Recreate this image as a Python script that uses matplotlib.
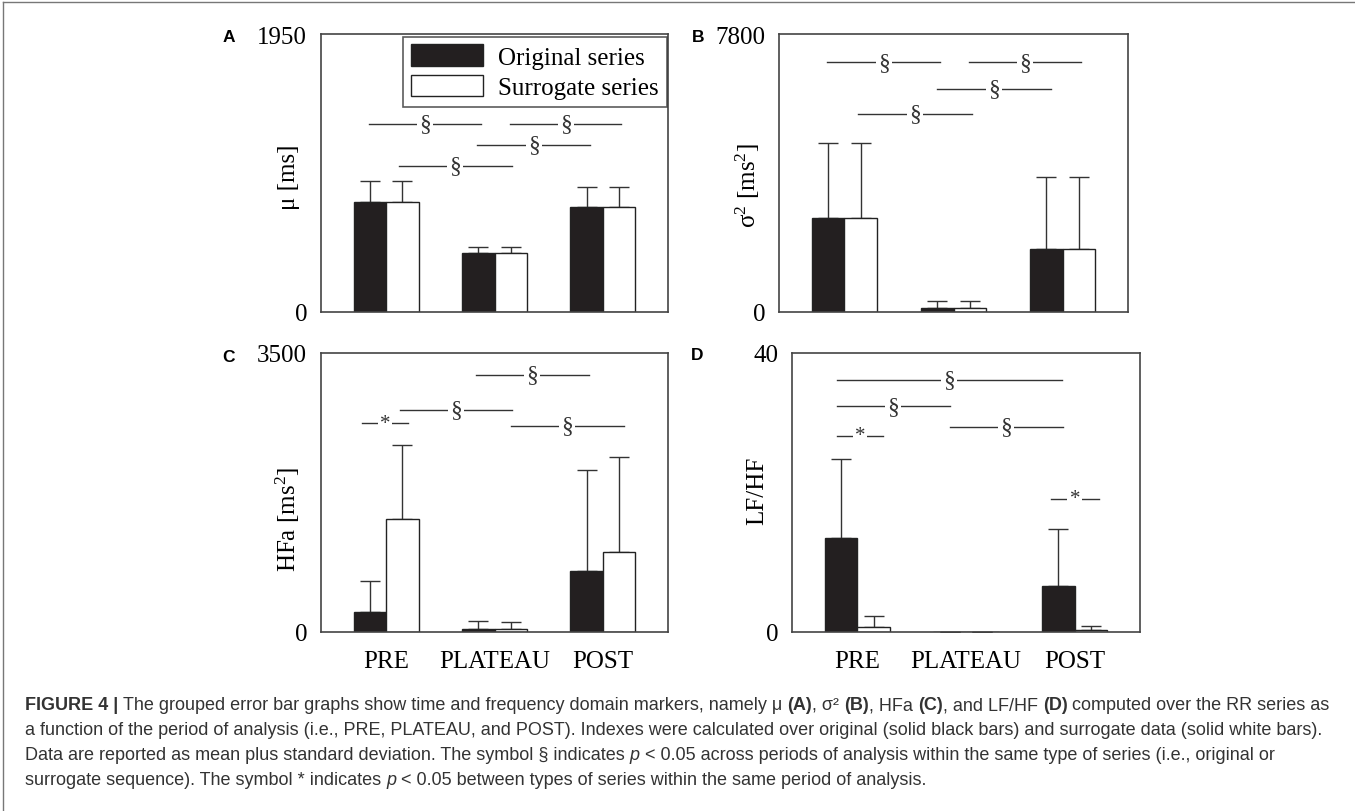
import matplotlib
matplotlib.use("Agg")
import matplotlib.pyplot as plt
from matplotlib.lines import Line2D
from matplotlib.patches import Patch

plt.rcParams['font.family'] = ['Liberation Serif', 'DejaVu Serif']
plt.rcParams['mathtext.fontset'] = 'custom'
plt.rcParams['mathtext.rm'] = 'Liberation Serif'
plt.rcParams['mathtext.it'] = 'Liberation Serif:italic'

# data (mean and SD)
periods = ["PRE", "PLATEAU", "POST"]

mu_orig = [770, 411, 736]
mu_orig_sd = [150, 42, 140]
mu_surr = [770, 411, 736]
mu_surr_sd = [150, 42, 140]

var_orig = [2650, 103, 1766]
var_orig_sd = [2086, 205, 2027]
var_surr = [2650, 103, 1766]
var_surr_sd = [2086, 205, 2027]

hfa_orig = [251, 42, 764]
hfa_orig_sd = [384, 96, 1262]
hfa_surr = [1420, 42, 1007]
hfa_surr_sd = [931, 79, 1190]

lfhf_orig = [13.5, 0, 6.55]
lfhf_orig_sd = [11.35, 0, 8.25]
lfhf_surr = [0.67, 0, 0.24]
lfhf_surr_sd = [1.63, 0, 0.56]

# significance marks: (x start, x end, y, symbol)
sig_A = [(0.84, 1.88, 1319, "§"), (2.14, 3.17, 1319, "§"),
         (1.84, 2.88, 1172, "§"), (1.12, 2.16, 1027, "§")]
sig_B = [(0.84, 1.88, 7006, "§"), (2.14, 3.17, 7006, "§"),
         (1.845, 2.89, 6259, "§"), (1.12, 2.17, 5558, "§")]
sig_C = [(1.83, 2.87, 3224, "§"), (1.13, 2.16, 2786, "§"),
         (2.15, 3.19, 2590, "§"), (0.78, 1.2, 2619, "*")]
sig_D = [(0.81, 2.88, 36.2, "§"), (0.81, 1.855, 32.35, "§"),
         (1.85, 2.89, 29.4, "§"), (0.81, 1.24, 28.15, "*"),
         (2.78, 3.22, 19.1, "*")]

W, H = 1355, 812
fig = plt.figure(figsize=(W / 100, H / 100), dpi=100)

def px_axes(left, top, right, bottom):
    return fig.add_axes([left / W, 1 - bottom / H, (right - left) / W, (bottom - top) / H])

panels = [
    ("A", px_axes(321, 35, 668, 313), mu_orig, mu_orig_sd, mu_surr, mu_surr_sd, 1950,
     "μ [ms]", sig_A, (-0.06, 0.489), (229, 37)),
    ("B", px_axes(779, 35, 1128, 313), var_orig, var_orig_sd, var_surr, var_surr_sd, 7800,
     "σ$^2$ [ms$^2$]", sig_B, (-0.05, 0.46), (698, 37)),
    ("C", px_axes(321, 354, 668, 633), hfa_orig, hfa_orig_sd, hfa_surr, hfa_surr_sd, 3500,
     "HFa [ms$^2$]", sig_C, (-0.055, 0.405), (229, 357)),
    ("D", px_axes(792, 354, 1140, 633), lfhf_orig, lfhf_orig_sd, lfhf_surr, lfhf_surr_sd, 40,
     "LF/HF", sig_D, (-0.069, 0.51), (697, 356)),
]

x = [1, 2, 3]
bw = 0.3
edge = "#222222"
for name, ax, orig, orig_sd, surr, surr_sd, ymax, ylab, sigs, lab_xy, let_xy in panels:
    xo = [v - bw / 2 for v in x]
    xs = [v + bw / 2 for v in x]
    ax.bar(xo, orig, bw, color="#231f20", edgecolor=edge, linewidth=1, zorder=2)
    ax.bar(xs, surr, bw, color="white", edgecolor=edge, linewidth=1, zorder=2)
    ax.errorbar(xo, orig, yerr=[[0] * 3, orig_sd], fmt="none", ecolor="#333333",
                elinewidth=1, capsize=7, capthick=1, zorder=1)
    ax.errorbar(xs, surr, yerr=[[0] * 3, surr_sd], fmt="none", ecolor="#333333",
                elinewidth=1, capsize=7, capthick=1, zorder=1)
    ax.set_xlim(0.4, 3.6)
    ax.set_ylim(0, ymax)
    ax.set_yticks([0, ymax])
    ax.set_yticklabels(["0", str(ymax)], fontsize=18)
    ax.tick_params(axis="y", length=0, pad=10)
    if name in ("C", "D"):
        ax.set_xticks(x)
        ax.set_xticklabels(periods, fontsize=18)
        ax.tick_params(axis="x", length=0, pad=13)
    else:
        ax.set_xticks([])
    for s in ax.spines.values():
        s.set_color("#444444")
        s.set_linewidth(1.2)
    ax.set_ylabel(ylab, fontsize=18)
    ax.yaxis.set_label_coords(*lab_xy)
    for x0, x1, y, sym in sigs:
        ax.plot([x0, x1], [y, y], color="#333333", lw=1, zorder=3)
        ax.text((x0 + x1) / 2, y, sym, ha="center", va="center", fontsize=17 if sym == "§" else 15,
                color="#333333", zorder=4,
                bbox=dict(facecolor="white", edgecolor="none", pad=1.5))
    fig.text(let_xy[0] / W, 1 - let_xy[1] / H, name, fontsize=12.5, fontweight="bold",
             family="Liberation Sans", ha="center", va="center")

# legend in panel A
handles = [Patch(facecolor="#231f20", edgecolor=edge, label="Original series"),
           Patch(facecolor="white", edgecolor=edge, label="Surrogate series")]
leg = panels[0][1].legend(handles=handles, loc="upper right", bbox_to_anchor=(0.996, 0.99),
                          fontsize=18, frameon=True, fancybox=False, handlelength=2.9,
                          handleheight=0.95, handletextpad=0.6, borderpad=0.3,
                          labelspacing=0.25, borderaxespad=0)
leg.get_frame().set_edgecolor("#333333")
leg.get_frame().set_linewidth(1.2)

# figure frame (left and top edges)
fig.add_artist(Line2D([3 / W, 3 / W], [0, 1 - 3 / H], color="#777777", lw=1))
fig.add_artist(Line2D([3 / W, 1], [1 - 3 / H, 1 - 3 / H], color="#777777", lw=1))

# caption
cap_lines = [
    [("FIGURE 4 | ", "bold", "normal"),
     ("The grouped error bar graphs show time and frequency domain markers, namely μ ", "normal", "normal"),
     ("(A)", "bold", "normal"), (", σ² ", "normal", "normal"), ("(B)", "bold", "normal"),
     (", HFa ", "normal", "normal"), ("(C)", "bold", "normal"), (", and LF/HF ", "normal", "normal"),
     ("(D)", "bold", "normal"), (" computed over the RR series as", "normal", "normal")],
    [("a function of the period of analysis (i.e., PRE, PLATEAU, and POST). Indexes were calculated "
      "over original (solid black bars) and surrogate data (solid white bars).", "normal", "normal")],
    [("Data are reported as mean plus standard deviation. The symbol § indicates ", "normal", "normal"),
     ("p", "normal", "italic"),
     (" < 0.05 across periods of analysis within the same type of series (i.e., original or", "normal", "normal")],
    [("surrogate sequence). The symbol * indicates ", "normal", "normal"), ("p", "normal", "italic"),
     (" < 0.05 between types of series within the same period of analysis.", "normal", "normal")],
]
cap_y = [706, 731, 756, 781]
cap_color = "#333333"
renderer = fig.canvas.get_renderer()

def run_width(text, size, weight, style):
    t1 = fig.text(0, 0, text + "x", fontsize=size, fontweight=weight, style=style,
                  family="Liberation Sans")
    t2 = fig.text(0, 0, "x", fontsize=size, fontweight=weight, style=style,
                  family="Liberation Sans")
    w = t1.get_window_extent(renderer).width - t2.get_window_extent(renderer).width
    t1.remove()
    t2.remove()
    return w

# fit line 1 to the reference width
base = 12
w1 = sum(run_width(t, base, wt, st) for t, wt, st in cap_lines[0])
size = base * 1305 / w1

for runs, yy in zip(cap_lines, cap_y):
    xx = 25
    for t, wt, st in runs:
        fig.text(xx / W, 1 - yy / H, t, fontsize=size, fontweight=wt, style=st,
                 family="Liberation Sans", color=cap_color, ha="left", va="center")
        xx += run_width(t, size, wt, st)

fig.savefig("out.png", dpi=100)
